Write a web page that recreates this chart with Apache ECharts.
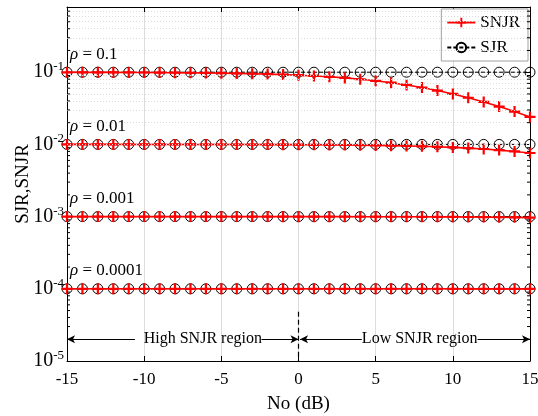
<!DOCTYPE html>
<html>
<head>
<meta charset="utf-8">
<script src="https://cdn.jsdelivr.net/npm/echarts@6/dist/echarts.min.js"></script>
<style>
  html, body { margin: 0; padding: 0; background: #fff; }
  #chart { width: 538px; height: 416px; }
</style>
</head>
<body>
<div id="chart"></div>
<script>
// Noise level No (dB)
const noDb = [-15, -14, -13, -12, -11, -10, -9, -8, -7, -6, -5, -4, -3, -2, -1, 0,
              1, 2, 3, 4, 5, 6, 7, 8, 9, 10, 11, 12, 13, 14, 15];

// Signal-to-jamming ratio for each rho (flat)
const sjr01    = [0.1, 0.1, 0.1, 0.1, 0.1, 0.1, 0.1, 0.1, 0.1, 0.1, 0.1, 0.1, 0.1, 0.1, 0.1, 0.1,
                  0.1, 0.1, 0.1, 0.1, 0.1, 0.1, 0.1, 0.1, 0.1, 0.1, 0.1, 0.1, 0.1, 0.1, 0.1];
const sjr001   = [0.01, 0.01, 0.01, 0.01, 0.01, 0.01, 0.01, 0.01, 0.01, 0.01, 0.01, 0.01, 0.01, 0.01, 0.01, 0.01,
                  0.01, 0.01, 0.01, 0.01, 0.01, 0.01, 0.01, 0.01, 0.01, 0.01, 0.01, 0.01, 0.01, 0.01, 0.01];
const sjr0001  = [0.001, 0.001, 0.001, 0.001, 0.001, 0.001, 0.001, 0.001, 0.001, 0.001, 0.001, 0.001, 0.001, 0.001, 0.001, 0.001,
                  0.001, 0.001, 0.001, 0.001, 0.001, 0.001, 0.001, 0.001, 0.001, 0.001, 0.001, 0.001, 0.001, 0.001, 0.001];
const sjr00001 = [0.0001, 0.0001, 0.0001, 0.0001, 0.0001, 0.0001, 0.0001, 0.0001, 0.0001, 0.0001, 0.0001, 0.0001, 0.0001, 0.0001, 0.0001, 0.0001,
                  0.0001, 0.0001, 0.0001, 0.0001, 0.0001, 0.0001, 0.0001, 0.0001, 0.0001, 0.0001, 0.0001, 0.0001, 0.0001, 0.0001, 0.0001];

// Signal-to-noise-plus-jamming ratio for each rho
const snjr01 = [0.0997, 0.0996, 0.0995, 0.0994, 0.0992, 0.0990, 0.0988, 0.0984, 0.0980, 0.0976, 0.0969,
                0.0962, 0.0952, 0.0941, 0.0926, 0.0909, 0.0888, 0.0863, 0.0834, 0.0799, 0.0760,
                0.0715, 0.0666, 0.0613, 0.0557, 0.0500, 0.0443, 0.0387, 0.0334, 0.0285, 0.0240];
const snjr001 = [0.009997, 0.009996, 0.009995, 0.009994, 0.009992, 0.009990, 0.009987, 0.009984, 0.009980, 0.009975, 0.009968,
                 0.009960, 0.009950, 0.009937, 0.009921, 0.009901, 0.009876, 0.009844, 0.009804, 0.009755, 0.009693,
                 0.009617, 0.009523, 0.009406, 0.009264, 0.009091, 0.008882, 0.008632, 0.008337, 0.007992, 0.007597];
const snjr0001 = [0.001, 0.001, 0.001, 0.001, 0.001, 0.001, 0.001, 0.001, 0.001, 0.001, 0.001,
                  0.001, 0.001, 0.001, 0.000999, 0.000999, 0.000999, 0.000998, 0.000998, 0.000997, 0.000997,
                  0.000996, 0.000995, 0.000994, 0.000992, 0.000990, 0.000988, 0.000984, 0.000980, 0.000976, 0.000969];
const snjr00001 = [0.0001, 0.0001, 0.0001, 0.0001, 0.0001, 0.0001, 0.0001, 0.0001, 0.0001, 0.0001, 0.0001,
                   0.0001, 0.0001, 0.0001, 0.0001, 0.0001, 0.0001, 0.0001, 0.0001, 0.0001, 0.0001,
                   0.0001, 0.0001, 0.0001, 0.0001, 0.0001, 0.0000999, 0.0000998, 0.0000998, 0.0000998, 0.0000997];

const rhoLabels = ['0.1', '0.01', '0.001', '0.0001'];
const rhoLevels = [0.1, 0.01, 0.001, 0.0001];
const sjrSets  = [sjr01, sjr001, sjr0001, sjr00001];
const snjrSets = [snjr01, snjr001, snjr0001, snjr00001];

const xTitle = 'No (dB)';
const yTitle = 'SJR,SNJR';
const highText = 'High SNJR region';
const lowText  = 'Low SNJR region';

const FONT = '"Liberation Serif", "DejaVu Serif", serif';
const Y_MIN = 1e-5, Y_MAX = 0.8;
const ARROW_Y = 2.0e-5;

// log minor grid values 2..9 per decade
const minorVals = [];
for (let d = -5; d <= -1; d++) {
  for (let k = 2; k <= 9; k++) {
    const v = k * Math.pow(10, d);
    if (v < Y_MAX) minorVals.push(+v.toPrecision(3));
  }
}

const plusPath = 'path://M4,0H6V4H10V6H6V10H4V6H0V4H4Z';
const zip = (xs, ys) => xs.map((x, i) => [x, ys[i]]);

const chart = echarts.init(document.getElementById('chart'), null, { renderer: 'canvas' });

const series = [];

// minor dotted grid
series.push({
  type: 'line', data: [], silent: true, z: 1,
  markLine: {
    silent: true, symbol: 'none', animation: false,
    label: { show: false },
    lineStyle: { color: '#dadada', type: [1, 2], width: 1 },
    data: minorVals.map(v => ({ yAxis: v }))
  }
});

// minor ticks on left/right axes
series.push({
  type: 'custom', silent: true, z: 5,
  data: minorVals.map(v => [-15, v]),
  renderItem: (params, api) => {
    const v = api.value(1);
    const pl = api.coord([-15, v]);
    const pr = api.coord([15, v]);
    return {
      type: 'group',
      children: [
        { type: 'line', shape: { x1: pl[0], y1: pl[1], x2: pl[0] + 3, y2: pl[1] }, style: { stroke: '#000', lineWidth: 1 } },
        { type: 'line', shape: { x1: pr[0], y1: pr[1], x2: pr[0] - 3, y2: pr[1] }, style: { stroke: '#000', lineWidth: 1 } }
      ]
    };
  }
});

sjrSets.forEach((arr) => {
  series.push({
    name: 'SJR', type: 'line', z: 3,
    data: zip(noDb, arr),
    symbol: 'circle', symbolSize: 10, showAllSymbol: true,
    lineStyle: { color: '#000', width: 1, type: [4, 2] },
    itemStyle: { color: 'rgba(255,255,255,0)', borderColor: '#000', borderWidth: 1 },
    emphasis: { disabled: true },
    animation: false
  });
});

snjrSets.forEach((arr) => {
  series.push({
    name: 'SNJR', type: 'line', z: 4,
    data: zip(noDb, arr),
    symbol: plusPath, symbolSize: 11, showAllSymbol: true,
    lineStyle: { color: '#ff0000', width: 1.6 },
    itemStyle: { color: '#ff0000' },
    emphasis: { disabled: true },
    animation: false
  });
});

// region arrows and boundary
series.push({
  type: 'line', data: [], silent: true, z: 6,
  markLine: {
    silent: true, animation: false,
    symbol: ['none', 'arrow'], symbolSize: [6, 8],
    label: { show: false },
    lineStyle: { color: '#000', type: 'solid', width: 1 },
    data: [
      [{ coord: [-10.6, ARROW_Y] }, { coord: [-15, ARROW_Y] }],
      [{ coord: [-2.4, ARROW_Y] }, { coord: [0, ARROW_Y] }],
      [{ coord: [4.1, ARROW_Y] }, { coord: [0.1, ARROW_Y] }],
      [{ coord: [11.6, ARROW_Y] }, { coord: [15, ARROW_Y] }],
      [{ coord: [0, 4.8e-5], symbol: 'none', lineStyle: { type: [5, 3], width: 1.2 } }, { coord: [0, Y_MIN], symbol: 'none' }]
    ]
  }
});

const supFmt = (v) => {
  const e = Math.log10(v);
  const r = Math.round(e);
  if (Math.abs(e - r) > 1e-6) return '';
  return '10{s|' + r + '}';
};

chart.setOption({
  backgroundColor: '#fff',
  animation: false,
  grid: { left: 67, right: 8, top: 7, bottom: 55, containLabel: false, outerBoundsMode: 'none' },
  legend: {
    data: ['SNJR', 'SJR'],
    orient: 'vertical',
    right: 10, top: 9,
    backgroundColor: '#fff',
    borderColor: '#a0a0a0', borderWidth: 1, borderRadius: 0,
    padding: [5, 8, 5, 5],
    itemGap: 8, itemWidth: 28, itemHeight: 12,
    selectedMode: false,
    textStyle: { fontFamily: FONT, fontSize: 17, color: '#000' }
  },
  xAxis: [{
    type: 'value', min: -15, max: 15, interval: 5,
    name: xTitle, nameLocation: 'middle', nameGap: 34, nameMoveOverlap: false,
    nameTextStyle: { fontFamily: FONT, fontSize: 19, color: '#000' },
    axisLine: { show: true, onZero: false, lineStyle: { color: '#000', width: 1 } },
    axisTick: { show: true, inside: true, length: 5, lineStyle: { color: '#000' } },
    axisLabel: { fontFamily: FONT, fontSize: 17, color: '#000', margin: 10 },
    splitLine: { show: true, lineStyle: { color: '#dcdcdc', width: 1 } }
  }, {
    type: 'value', min: -15, max: 15, interval: 5, position: 'top',
    axisLine: { show: true, onZero: false, lineStyle: { color: '#000', width: 1 } },
    axisTick: { show: true, inside: true, length: 5, lineStyle: { color: '#000' } },
    axisLabel: { show: false },
    splitLine: { show: false }
  }],
  yAxis: [{
    type: 'log', logBase: 10, min: Y_MIN, max: Y_MAX,
    name: yTitle, nameLocation: 'middle', nameGap: 34, nameRotate: 90, nameMoveOverlap: false,
    nameTextStyle: { fontFamily: FONT, fontSize: 19, color: '#000' },
    axisLine: { show: true, onZero: false, lineStyle: { color: '#000', width: 1 } },
    axisTick: { show: true, inside: true, length: 5, lineStyle: { color: '#000' } },
    axisLabel: {
      fontFamily: FONT, fontSize: 20, color: '#000', margin: 3,
      formatter: supFmt,
      rich: { s: { fontFamily: FONT, fontSize: 13, color: '#000', padding: [0, 0, 11, 0] } }
    },
    splitLine: { show: true, lineStyle: { color: '#dcdcdc', width: 1 } }
  }, {
    type: 'log', logBase: 10, min: Y_MIN, max: Y_MAX, position: 'right',
    axisLine: { show: true, onZero: false, lineStyle: { color: '#000', width: 1 } },
    axisTick: { show: true, inside: true, length: 5, lineStyle: { color: '#000' } },
    axisLabel: { show: false },
    splitLine: { show: false }
  }],
  series: series
});

// text annotations placed through the axes' own coordinate conversion
const gfx = [];
rhoLevels.forEach((lv, i) => {
  const p = chart.convertToPixel({ xAxisIndex: 0, yAxisIndex: 0 }, [-15, lv]);
  gfx.push({
    type: 'text', x: p[0] + 3, y: p[1] - 18, z: 100,
    style: {
      text: '{i|ρ} = ' + rhoLabels[i],
      font: '17px ' + FONT, fill: '#000',
      verticalAlign: 'middle', align: 'left',
      rich: { i: { fontFamily: FONT, fontSize: 17, fontStyle: 'italic', fill: '#000' } }
    }
  });
});
const ph = chart.convertToPixel({ xAxisIndex: 0, yAxisIndex: 0 }, [-6.2, ARROW_Y]);
const pl = chart.convertToPixel({ xAxisIndex: 0, yAxisIndex: 0 }, [7.85, ARROW_Y]);
gfx.push({ type: 'text', x: ph[0], y: ph[1], z: 100,
  style: { text: highText, font: '16px ' + FONT, fill: '#000', align: 'center', verticalAlign: 'middle' } });
gfx.push({ type: 'text', x: pl[0], y: pl[1], z: 100,
  style: { text: lowText, font: '16px ' + FONT, fill: '#000', align: 'center', verticalAlign: 'middle' } });
chart.setOption({ graphic: gfx });
</script>
</body>
</html>
